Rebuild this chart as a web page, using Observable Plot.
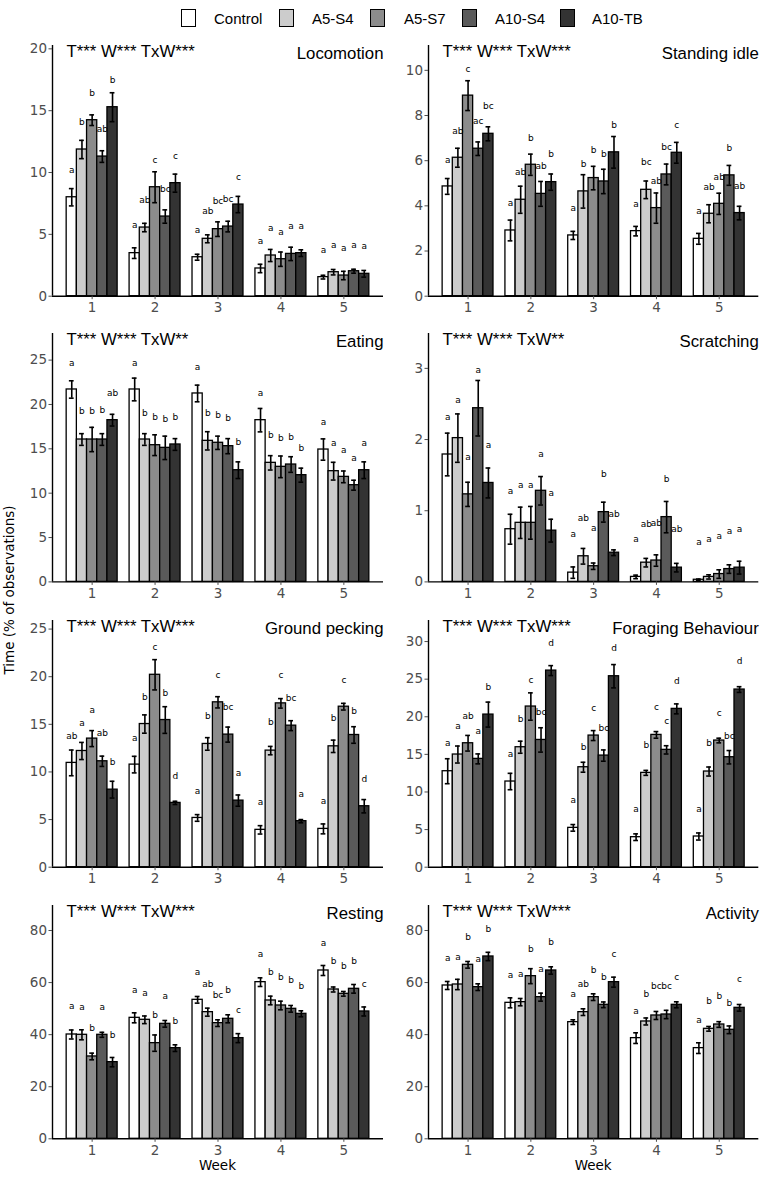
<!DOCTYPE html>
<html>
<head>
<meta charset="utf-8">
<script src="https://cdn.jsdelivr.net/npm/d3@7"></script>
<script src="https://cdn.jsdelivr.net/npm/@observablehq/plot@0.6"></script>
<style>
  html, body { margin: 0; padding: 0; background: #fff; }
  #root { position: relative; width: 770px; height: 1181px; background: #fff; overflow: hidden; }
  .lg-box { position: absolute; box-sizing: border-box; border: 1.5px solid #000; }
  .lg-txt { position: absolute; font-family: "Liberation Sans", Arial, sans-serif; font-size: 15px; line-height: 1; color: #000; white-space: nowrap; }
  .axt { position: absolute; font-family: "DejaVu Sans", sans-serif; font-size: 13.5px; line-height: 1; color: #000; white-space: nowrap; }
</style>
</head>
<body>
<div id="root"></div>
<script>
// ---------------- data ----------------
const weeks = [1, 2, 3, 4, 5];
const treatments = ["Control", "A5-S4", "A5-S7", "A10-S4", "A10-TB"];
const fills = ["#ffffff", "#cccccc", "#8c8c8c", "#5a5a5a", "#333333"];

// Locomotion (rows = weeks, columns = treatments)
const locomotionMean = [[8.0, 11.86, 14.23, 11.29, 15.28], [3.48, 5.55, 8.81, 6.44, 9.14], [3.15, 4.64, 5.42, 5.63, 7.41], [2.24, 3.29, 2.99, 3.42, 3.48], [1.54, 1.94, 1.67, 2.02, 1.81]];
const locomotionSE = [[0.7, 0.74, 0.43, 0.47, 1.17], [0.43, 0.34, 1.25, 0.54, 0.73], [0.24, 0.32, 0.59, 0.43, 0.66], [0.34, 0.49, 0.58, 0.54, 0.27], [0.15, 0.22, 0.34, 0.16, 0.27]];
const locomotionLetters = [["a", "b", "b", "ab", "b"], ["a", "ab", "c", "bc", "c"], ["a", "ab", "bc", "bc", "c"], ["a", "a", "a", "a", "a"], ["a", "a", "a", "a", "a"]];
const locomotionLetterY = [[10.2, 14.07, 16.44, 13.53, 17.49], [5.71, 7.79, 11.02, 8.65, 11.32], [5.31, 6.85, 7.68, 7.82, 9.6], [4.42, 5.5, 5.18, 5.63, 5.63], [3.75, 4.15, 3.91, 4.15, 4.02]];

// Standing idle
const standingMean = [[4.86, 6.13, 8.88, 6.53, 7.19], [2.91, 4.27, 5.82, 4.53, 5.05], [2.69, 4.64, 5.23, 5.08, 6.37], [2.88, 4.71, 3.9, 5.39, 6.35], [2.54, 3.65, 4.09, 5.35, 3.68]];
const standingSE = [[0.35, 0.42, 0.66, 0.3, 0.31], [0.46, 0.6, 0.47, 0.55, 0.36], [0.18, 0.74, 0.52, 0.54, 0.7], [0.21, 0.39, 0.67, 0.46, 0.46], [0.24, 0.4, 0.47, 0.44, 0.3]];
const standingLetters = [["a", "ab", "c", "ac", "bc"], ["a", "ab", "b", "ab", "b"], ["a", "b", "b", "b", "b"], ["a", "bc", "ab", "bc", "c"], ["a", "ab", "ab", "b", "ab"]];
const standingLetterY = [[6.04, 7.31, 10.07, 7.74, 8.4], [4.12, 5.49, 7.02, 5.75, 6.31], [3.91, 5.86, 6.48, 6.31, 7.59], [4.09, 5.94, 5.1, 6.6, 7.56], [3.77, 4.83, 5.27, 6.57, 4.86]];

// Eating
const eatingMean = [[21.69, 16.05, 16.05, 16.05, 18.23], [21.69, 16.05, 15.41, 15.11, 15.49], [21.24, 15.9, 15.68, 15.3, 12.59], [18.23, 13.42, 12.97, 13.23, 12.03], [14.92, 12.48, 11.84, 10.9, 12.59]];
const eatingSE = [[0.98, 0.66, 1.37, 0.66, 0.66], [1.28, 0.66, 1.17, 1.32, 0.66], [0.94, 1.03, 0.75, 0.85, 0.94], [1.32, 0.81, 1.22, 0.88, 0.79], [1.2, 1.0, 0.66, 0.56, 0.94]];
const eatingLetters = [["a", "b", "b", "b", "ab"], ["a", "b", "b", "b", "b"], ["a", "b", "b", "b", "b"], ["a", "b", "b", "b", "b"], ["a", "a", "a", "a", "a"]];
const eatingLetterY = [[24.7, 19.25, 19.25, 19.36, 21.24], [24.7, 19.06, 18.53, 18.35, 18.61], [24.25, 19.06, 18.8, 18.42, 15.71], [21.32, 16.54, 16.17, 16.28, 15.11], [18.05, 15.6, 14.85, 13.98, 15.68]];

// Scratching
const scratchingMean = [[1.79, 2.02, 1.23, 2.44, 1.39], [0.74, 0.83, 0.83, 1.28, 0.72], [0.13, 0.36, 0.22, 0.98, 0.41], [0.07, 0.27, 0.3, 0.91, 0.2], [0.03, 0.07, 0.11, 0.18, 0.2]];
const scratchingSE = [[0.3, 0.34, 0.17, 0.39, 0.21], [0.21, 0.22, 0.23, 0.2, 0.16], [0.08, 0.11, 0.045, 0.14, 0.04], [0.025, 0.06, 0.08, 0.22, 0.06], [0.01, 0.03, 0.06, 0.06, 0.09]];
const scratchingLetters = [["a", "a", "a", "a", "a"], ["a", "a", "a", "a", "a"], ["a", "ab", "a", "b", "ab"], ["a", "ab", "ab", "b", "ab"], ["a", "a", "a", "a", "a"]];
const scratchingLetterY = [[2.32, 2.56, 1.76, 2.97, 1.92], [1.28, 1.36, 1.36, 1.8, 1.25], [0.67, 0.9, 0.75, 1.51, 0.95], [0.6, 0.81, 0.83, 1.45, 0.74], [0.56, 0.6, 0.65, 0.72, 0.74]];

// Ground pecking
const peckingMean = [[10.95, 12.2, 13.5, 11.12, 8.14], [10.77, 15.03, 20.2, 15.45, 6.75], [5.17, 12.94, 17.31, 13.92, 6.99], [3.92, 12.24, 17.2, 14.86, 4.83], [4.02, 12.69, 16.85, 13.88, 6.4]];
const peckingSE = [[1.35, 0.9, 0.84, 0.54, 0.88], [0.87, 0.96, 1.59, 1.4, 0.17], [0.35, 0.66, 0.59, 0.79, 0.59], [0.44, 0.44, 0.5, 0.52, 0.17], [0.52, 0.65, 0.35, 0.87, 0.7]];
const peckingLetters = [["ab", "a", "a", "ab", "b"], ["a", "b", "c", "b", "d"], ["a", "b", "c", "bc", "a"], ["a", "b", "c", "bc", "a"], ["a", "b", "c", "b", "d"]];
const peckingLetterY = [[13.79, 15.09, 16.5, 14.04, 11.05], [13.53, 17.9, 23.08, 18.29, 9.55], [8.04, 15.91, 20.21, 16.78, 9.9], [6.82, 15.21, 20.21, 17.76, 7.69], [6.92, 15.66, 19.69, 16.36, 9.27]];

// Foraging Behaviour
const foragingMean = [[12.76, 14.98, 16.48, 14.4, 20.29], [11.39, 15.95, 21.36, 16.92, 26.14], [5.23, 13.29, 17.5, 14.84, 25.39], [3.99, 12.54, 17.59, 15.6, 21.05], [4.08, 12.72, 16.84, 14.62, 23.62]];
const foragingSE = [[1.66, 1.13, 1.04, 0.66, 1.66], [1.09, 0.8, 1.82, 1.62, 0.66], [0.44, 0.66, 0.66, 0.75, 1.55], [0.44, 0.33, 0.44, 0.55, 0.66], [0.47, 0.6, 0.31, 0.89, 0.38]];
const foragingLetters = [["a", "a", "ab", "a", "b"], ["a", "b", "c", "bc", "d"], ["a", "b", "c", "bc", "d"], ["a", "b", "c", "c", "d"], ["a", "b", "c", "bc", "d"]];
const foragingLetterY = [[16.48, 18.7, 20.07, 18.08, 23.93], [15.06, 19.63, 24.94, 20.6, 29.77], [8.95, 15.95, 21.18, 18.52, 29.11], [7.66, 16.17, 21.27, 19.41, 24.72], [7.66, 16.53, 20.51, 17.37, 27.34]];

// Resting
const restingMean = [[40.06, 39.94, 31.62, 39.94, 29.44], [46.46, 45.7, 36.74, 44.16, 34.82], [53.38, 48.64, 44.42, 46.08, 38.66], [60.16, 53.12, 51.2, 49.92, 48.0], [64.64, 57.34, 55.68, 57.6, 48.9]];
const restingSE = [[1.73, 1.92, 1.28, 0.96, 1.79], [1.92, 1.47, 3.14, 1.28, 1.28], [1.28, 1.54, 1.28, 1.54, 1.73], [1.66, 1.66, 1.66, 1.28, 1.15], [1.92, 0.96, 0.9, 1.66, 1.73]];
const restingLetters = [["a", "a", "b", "a", "b"], ["a", "a", "b", "a", "b"], ["a", "ab", "bc", "b", "c"], ["a", "b", "b", "b", "b"], ["a", "b", "b", "b", "c"]];
const restingLetterY = [[50.82, 50.56, 42.5, 50.56, 39.94], [56.96, 56.06, 47.62, 54.78, 45.06], [64.0, 59.26, 55.04, 56.96, 49.28], [70.78, 64.0, 62.08, 60.8, 58.5], [75.14, 68.1, 66.3, 68.1, 59.26]];

// Activity
const activityMean = [[58.88, 59.26, 66.82, 58.24, 70.02], [52.22, 52.48, 62.46, 54.4, 64.64], [44.8, 48.64, 54.4, 51.46, 60.16], [38.66, 45.06, 47.36, 47.74, 51.46], [34.82, 42.24, 43.9, 41.86, 50.3]];
const activitySE = [[1.54, 1.98, 1.28, 1.28, 1.6], [1.92, 1.41, 2.88, 1.54, 1.41], [0.9, 1.28, 1.28, 1.09, 1.92], [2.05, 1.34, 1.54, 1.6, 1.15], [2.05, 0.9, 1.09, 1.47, 1.28]];
const activityLetters = [["a", "a", "b", "a", "b"], ["a", "a", "b", "a", "b"], ["a", "ab", "b", "b", "c"], ["a", "b", "bc", "bc", "c"], ["a", "b", "b", "b", "c"]];
const activityLetterY = [[69.38, 69.76, 77.44, 68.86, 80.64], [62.72, 63.1, 72.96, 65.28, 75.52], [55.42, 59.26, 64.9, 62.08, 71.04], [49.02, 55.68, 58.5, 58.5, 62.08], [45.44, 52.86, 54.78, 52.22, 61.18]];

// tick labels
const ticksLocomotion = [0, 5, 10, 15, 20];
const ticksStanding = [0, 2, 4, 6, 8, 10];
const ticksEating = [0, 5, 10, 15, 20, 25];
const ticksScratching = [0, 1, 2, 3];
const ticksPecking = [0, 5, 10, 15, 20, 25];
const ticksForaging = [0, 5, 10, 15, 20, 25, 30];
const ticksResting = [0, 20, 40, 60, 80];
const ticksActivity = [0, 20, 40, 60, 80];

const panels = [
  {title: "Locomotion", stats: "T*** W*** TxW***", mean: locomotionMean, se: locomotionSE, letters: locomotionLetters, letterY: locomotionLetterY, ticks: ticksLocomotion, yMax: 20.27, col: 0, row: 0},
  {title: "Standing idle", stats: "T*** W*** TxW***", mean: standingMean, se: standingSE, letters: standingLetters, letterY: standingLetterY, ticks: ticksStanding, yMax: 11.1, col: 1, row: 0},
  {title: "Eating", stats: "T*** W*** TxW**", mean: eatingMean, se: eatingSE, letters: eatingLetters, letterY: eatingLetterY, ticks: ticksEating, yMax: 28.0, col: 0, row: 1},
  {title: "Scratching", stats: "T*** W*** TxW**", mean: scratchingMean, se: scratchingSE, letters: scratchingLetters, letterY: scratchingLetterY, ticks: ticksScratching, yMax: 3.49, col: 1, row: 1},
  {title: "Ground pecking", stats: "T*** W*** TxW***", mean: peckingMean, se: peckingSE, letters: peckingLetters, letterY: peckingLetterY, ticks: ticksPecking, yMax: 25.9, col: 0, row: 2},
  {title: "Foraging Behaviour", stats: "T*** W*** TxW***", mean: foragingMean, se: foragingSE, letters: foragingLetters, letterY: foragingLetterY, ticks: ticksForaging, yMax: 32.8, col: 1, row: 2},
  {title: "Resting", stats: "T*** W*** TxW***", mean: restingMean, se: restingSE, letters: restingLetters, letterY: restingLetterY, ticks: ticksResting, yMax: 89.6, col: 0, row: 3},
  {title: "Activity", stats: "T*** W*** TxW***", mean: activityMean, se: activitySE, letters: activityLetters, letterY: activityLetterY, ticks: ticksActivity, yMax: 89.6, col: 1, row: 3}
];

// ---------------- layout ----------------
const rowFrames = [[45, 295.7], [333.3, 581.7], [620, 866.7], [905, 1138.3]];
const colFrames = [[52, 383], [428, 758.3]];
const M_LEFT = 48, M_RIGHT = 8, M_TOP = 10, M_BOTTOM = 26;
const X_DOMAIN = [0.37, 5.63];
const BAR_W = 0.162;   // bar width in week units (dodged)
const CAP = 0.038;     // half width of error-bar caps
const TEXT_FONT = "DejaVu Sans, sans-serif";
const TITLE_FONT = "Liberation Sans, Arial, sans-serif";

const root = document.getElementById("root");

function buildRows(p) {
  const rows = [];
  weeks.forEach((w, wi) => {
    treatments.forEach((t, ti) => {
      rows.push({
        week: w, group: t, ti,
        mean: p.mean[wi][ti], se: p.se[wi][ti],
        letter: p.letters[wi][ti], ly: p.letterY[wi][ti]
      });
    });
  });
  return rows;
}

const center = d => d.week + (d.ti - 2) * BAR_W;

for (const p of panels) {
  const rows = buildRows(p);
  const caps = rows.flatMap(d => [{...d, v: d.mean - d.se}, {...d, v: d.mean + d.se}]);
  const [fTop, fBottom] = rowFrames[p.row];
  const [fLeft, fRight] = colFrames[p.col];
  const width = (fRight - fLeft) + M_LEFT + M_RIGHT;
  const height = (fBottom - fTop) + M_TOP + M_BOTTOM;

  const chart = Plot.plot({
    width, height,
    marginLeft: M_LEFT, marginRight: M_RIGHT, marginTop: M_TOP, marginBottom: M_BOTTOM,
    x: {domain: X_DOMAIN},
    y: {domain: [0, p.yMax]},
    color: {domain: treatments, range: fills},
    style: {fontFamily: TEXT_FONT, background: "transparent", overflow: "visible", color: "#000"},
    marks: [
      Plot.rect(rows, {
        x1: d => center(d) - BAR_W / 2, x2: d => center(d) + BAR_W / 2,
        y1: 0, y2: "mean", fill: "group", stroke: "#000", strokeWidth: 1.3
      }),
      Plot.ruleX(rows, {x: center, y1: d => d.mean - d.se, y2: d => d.mean + d.se, stroke: "#000", strokeWidth: 1.6}),
      Plot.ruleY(caps, {y: "v", x1: d => center(d) - CAP, x2: d => center(d) + CAP, stroke: "#000", strokeWidth: 1.6}),
      Plot.text(rows, {x: center, y: "ly", text: "letter", fontSize: 9, fill: "#000", fontFamily: TEXT_FONT}),
      Plot.ruleY([0], {stroke: "#000", strokeWidth: 1.4}),
      Plot.ruleX([X_DOMAIN[0]], {stroke: "#000", strokeWidth: 1.4}),
      Plot.axisX(weeks, {tickSize: 3.5, tickPadding: 3, fontSize: 13.5, color: "#4d4d4d", label: null, tickFormat: d => String(d)}),
      Plot.axisY(p.ticks, {tickSize: 3.5, tickPadding: 2, fontSize: 13.5, color: "#4d4d4d", label: null, tickFormat: d => String(d)}),
      Plot.text([p.stats], {text: d => d, frameAnchor: "top-left", textAnchor: "start", lineAnchor: "top", dx: 14, dy: 0, fontSize: 16.8, fontFamily: TITLE_FONT, fill: "#000"}),
      Plot.text([p.title], {text: d => d, frameAnchor: "top-right", textAnchor: "end", lineAnchor: "top", dx: 0, dy: 2, fontSize: 16.8, fontFamily: TITLE_FONT, fill: "#000"})
    ]
  });
  chart.style.position = "absolute";
  chart.style.left = (fLeft - M_LEFT) + "px";
  chart.style.top = (fTop - M_TOP) + "px";
  root.appendChild(chart);
}

// ---------------- legend ----------------
const legendBoxLeft = [181, 279, 370, 462, 560];
const legendTextLeft = [214, 312, 404, 495, 592];
treatments.forEach((t, i) => {
  const b = document.createElement("div");
  b.className = "lg-box";
  b.style.left = legendBoxLeft[i] + "px";
  b.style.top = "9px";
  b.style.width = "15px";
  b.style.height = "18px";
  b.style.background = fills[i];
  root.appendChild(b);
  const s = document.createElement("div");
  s.className = "lg-txt";
  s.style.left = legendTextLeft[i] + "px";
  s.style.top = "11px";
  s.textContent = t;
  root.appendChild(s);
});

// ---------------- axis titles ----------------
const yTitle = document.createElement("div");
yTitle.className = "axt";
yTitle.textContent = "Time (% of observations)";
yTitle.style.left = "10px";
yTitle.style.top = "590px";
yTitle.style.transform = "translate(-50%, -50%) rotate(-90deg)";
root.appendChild(yTitle);

colFrames.forEach(([l, r]) => {
  const w = document.createElement("div");
  w.className = "axt";
  w.textContent = "Week";
  w.style.left = ((l + r) / 2) + "px";
  w.style.top = "1166px";
  w.style.transform = "translate(-50%, -50%)";
  root.appendChild(w);
});
</script>
</body>
</html>
